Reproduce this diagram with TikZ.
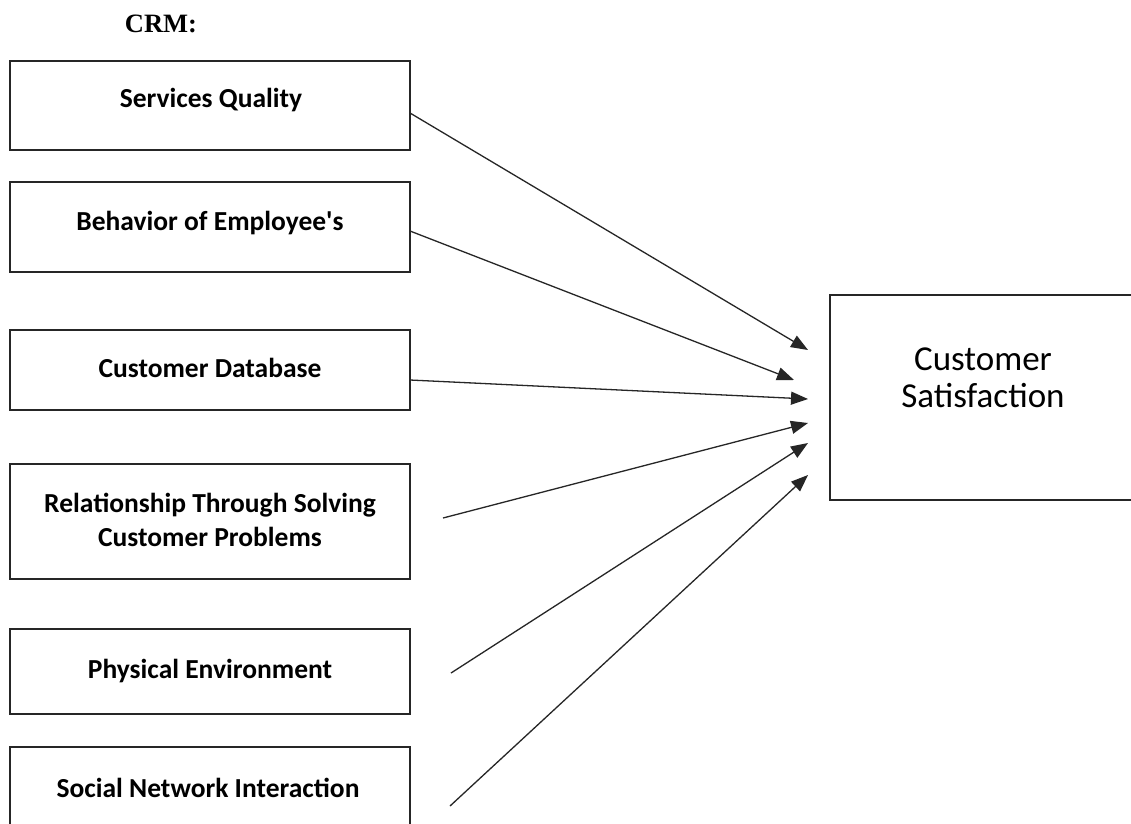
\documentclass[tikz,border=0pt]{standalone}
\usepackage{fontspec}
\setmainfont{Liberation Serif}
\newfontfamily\calfont{Carlito}
\usetikzlibrary{arrows.meta}
\begin{document}
\begin{tikzpicture}[x=1pt,y=-1pt,
  box/.style={draw=black!85,line width=1.4pt,rectangle,inner sep=0pt,
    minimum width=400pt},
  lbl/.style={inner sep=0pt,font=\calfont\bfseries\fontsize{27.5}{34}\selectfont,align=center},
  arr/.style={line width=1.3pt,black!85,-{Triangle[length=17pt,width=13pt]}}]
\useasboundingbox (0,0) rectangle (1131,823);
\clip (0,0) rectangle (1131,823);
\fill[white] (0,0) rectangle (1131,823);
\node[inner sep=0pt,anchor=base,font=\bfseries\fontsize{26.5}{30}\selectfont] (crm) at (161,32) {CRM:};
\node[box,minimum height=89pt] (b1) at (210,105.5) {};
\node[lbl,anchor=base] (t1) at (211,107) {Services Quality};
\node[box,minimum height=90pt] (b2) at (210,227) {};
\node[lbl,anchor=base] (t2) at (210,230) {Behavior of Employee's};
\node[box,minimum height=80pt] (b3) at (210,370) {};
\node[lbl,anchor=base] (t3) at (210,377) {Customer Database};
\node[box,minimum height=115pt] (b4) at (210,521.5) {};
\node[lbl,anchor=south] (t4) at (210,547) {Relationship Through Solving\\Customer Problems};
\node[box,minimum height=85pt] (b5) at (210,671.5) {};
\node[lbl,anchor=base] (t5) at (210,678) {Physical Environment};
\node[box,minimum height=120pt] (b6) at (210,807) {};
\node[lbl,anchor=base] (t6) at (208,797) {Social Network Interaction};
\node[draw=black!85,line width=1.4pt,rectangle,inner sep=0pt,minimum width=304pt,minimum height=205pt] (cs) at (982,397.5) {};
\node[inner sep=0pt,align=center,anchor=south,font=\calfont\fontsize{35}{37}\selectfont] (cst) at (983,408) {Customer\\Satisfaction};
\coordinate (s1) at (410,113);
\coordinate (s2) at (410,231);
\coordinate (s3) at (410,380);
\coordinate (s4) at (443,518);
\coordinate (s5) at (451,673);
\coordinate (s6) at (450,806);
\coordinate (e1) at (808,350);
\coordinate (e2) at (794,380);
\coordinate (e3) at (808,399);
\coordinate (e4) at (808,423);
\coordinate (e5) at (808,443);
\coordinate (e6) at (808,475);
\draw[arr] (s1) -- (e1);
\draw[arr] (s2) -- (e2);
\draw[arr] (s3) -- (e3);
\draw[arr] (s4) -- (e4);
\draw[arr] (s5) -- (e5);
\draw[arr] (s6) -- (e6);
\end{tikzpicture}
\end{document}
